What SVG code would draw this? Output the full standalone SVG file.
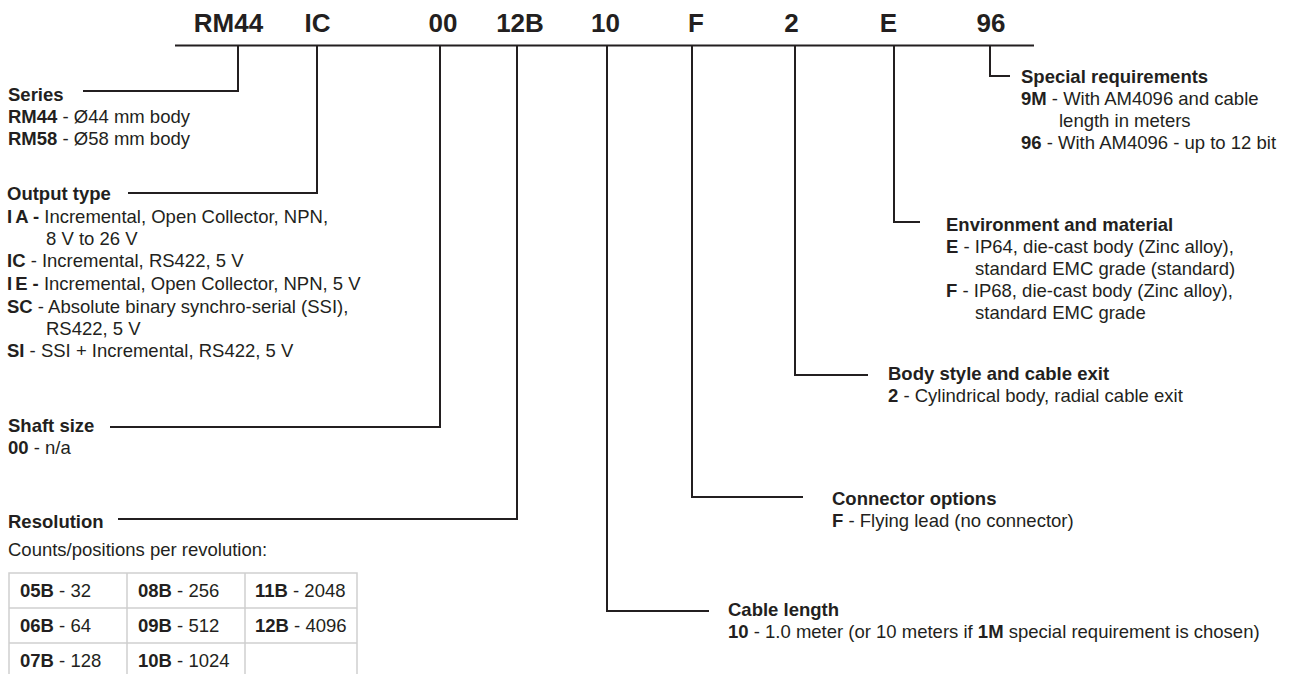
<svg xmlns="http://www.w3.org/2000/svg" width="1290" height="674" viewBox="0 0 1290 674">
<style>
text{font-family:"Liberation Sans",Arial,Helvetica,sans-serif;fill:#231f20;font-size:18.5px}
.code{font-size:26px;font-weight:bold;text-anchor:middle}
.h{font-weight:bold}
.b{font-weight:bold}
.conn{fill:none;stroke:#231f20;stroke-width:2;stroke-linejoin:miter;stroke-linecap:butt}
.grid{fill:none;stroke:#cfcfcf;stroke-width:1.5}
</style>
<rect width="1290" height="674" fill="#ffffff"/>
<g id="header">
<text class="code" x="228.5" y="31.5">RM44</text>
<text class="code" x="317.5" y="31.5">IC</text>
<text class="code" x="443" y="31.5">00</text>
<text class="code" x="520" y="31.5">12B</text>
<text class="code" x="605.5" y="31.5">10</text>
<text class="code" x="696" y="31.5">F</text>
<text class="code" x="791.5" y="31.5">2</text>
<text class="code" x="888.5" y="31.5">E</text>
<text class="code" x="991" y="31.5">96</text>
</g>
<g id="connectors">
<path class="conn" d="M175 45.5 H1034"/>
<path class="conn" d="M238 45.5 V91 H83"/>
<path class="conn" d="M317 45.5 V193 H128"/>
<path class="conn" d="M440 45.5 V427 H110"/>
<path class="conn" d="M517 45.5 V519 H118"/>
<path class="conn" d="M607 45.5 V611 H709"/>
<path class="conn" d="M692 45.5 V497 H803"/>
<path class="conn" d="M795 45.5 V375 H868"/>
<path class="conn" d="M894 45.5 V222 H920"/>
<path class="conn" d="M990 45.5 V76 H1010"/>
</g>
<g id="series">
<text class="h" x="8" y="101">Series</text>
<text x="8" y="123"><tspan class="b">RM44</tspan> - Ø44 mm body</text>
<text x="8" y="145"><tspan class="b">RM58</tspan> - Ø58 mm body</text>
</g>
<g id="output-type">
<text class="h" x="7" y="200">Output type</text>
<text x="7" y="223"><tspan class="b">I</tspan><tspan class="b" dx="3">A -</tspan> Incremental, Open Collector, NPN,</text>
<text x="46" y="245">8 V to 26 V</text>
<text x="7" y="267"><tspan class="b">IC</tspan> - Incremental, RS422, 5 V</text>
<text x="7" y="290"><tspan class="b">I</tspan><tspan class="b" dx="3">E -</tspan> Incremental, Open Collector, NPN, 5 V</text>
<text x="7" y="313"><tspan class="b">SC</tspan> - Absolute binary synchro-serial (SSI),</text>
<text x="46" y="335">RS422, 5 V</text>
<text x="7" y="357"><tspan class="b">SI</tspan> - SSI + Incremental, RS422, 5 V</text>
</g>
<g id="shaft-size">
<text class="h" x="8" y="432">Shaft size</text>
<text x="8" y="454"><tspan class="b">00</tspan> - n/a</text>
</g>
<g id="resolution">
<text class="h" x="8" y="528">Resolution</text>
<text x="8" y="556">Counts/positions per revolution:</text>
<rect class="grid" x="9" y="573" width="348" height="106"/>
<path class="grid" d="M127 573 V679 M245 573 V679 M9 608 H357 M9 643 H357"/>
<text x="20" y="597"><tspan class="b">05B</tspan> - 32</text>
<text x="138" y="597"><tspan class="b">08B</tspan> - 256</text>
<text x="255" y="597"><tspan class="b">11B</tspan> - 2048</text>
<text x="20" y="632"><tspan class="b">06B</tspan> - 64</text>
<text x="138" y="632"><tspan class="b">09B</tspan> - 512</text>
<text x="255" y="632"><tspan class="b">12B</tspan> - 4096</text>
<text x="20" y="667"><tspan class="b">07B</tspan> - 128</text>
<text x="138" y="667"><tspan class="b">10B</tspan> - 1024</text>
</g>
<g id="cable-length">
<text class="h" x="728" y="616">Cable length</text>
<text x="728" y="638"><tspan class="b">10</tspan> - 1.0 meter (or 10 meters if <tspan class="b">1M</tspan> special requirement is chosen)</text>
</g>
<g id="connector-options">
<text class="h" x="832" y="505">Connector options</text>
<text x="832" y="527"><tspan class="b">F</tspan> - Flying lead (no connector)</text>
</g>
<g id="body-style">
<text class="h" x="888" y="380">Body style and cable exit</text>
<text x="888" y="402"><tspan class="b">2</tspan> - Cylindrical body, radial cable exit</text>
</g>
<g id="environment">
<text class="h" x="946" y="231">Environment and material</text>
<text x="946" y="253"><tspan class="b">E</tspan> - IP64, die-cast body (Zinc alloy),</text>
<text x="975" y="275">standard EMC grade (standard)</text>
<text x="946" y="297"><tspan class="b">F</tspan> - IP68, die-cast body (Zinc alloy),</text>
<text x="975" y="319">standard EMC grade</text>
</g>
<g id="special-requirements">
<text class="h" x="1021" y="83">Special requirements</text>
<text x="1021" y="105"><tspan class="b">9M</tspan> - With AM4096 and cable</text>
<text x="1059" y="127">length in meters</text>
<text x="1021" y="149"><tspan class="b">96</tspan> - With AM4096 - up to 12 bit</text>
</g>
</svg>
